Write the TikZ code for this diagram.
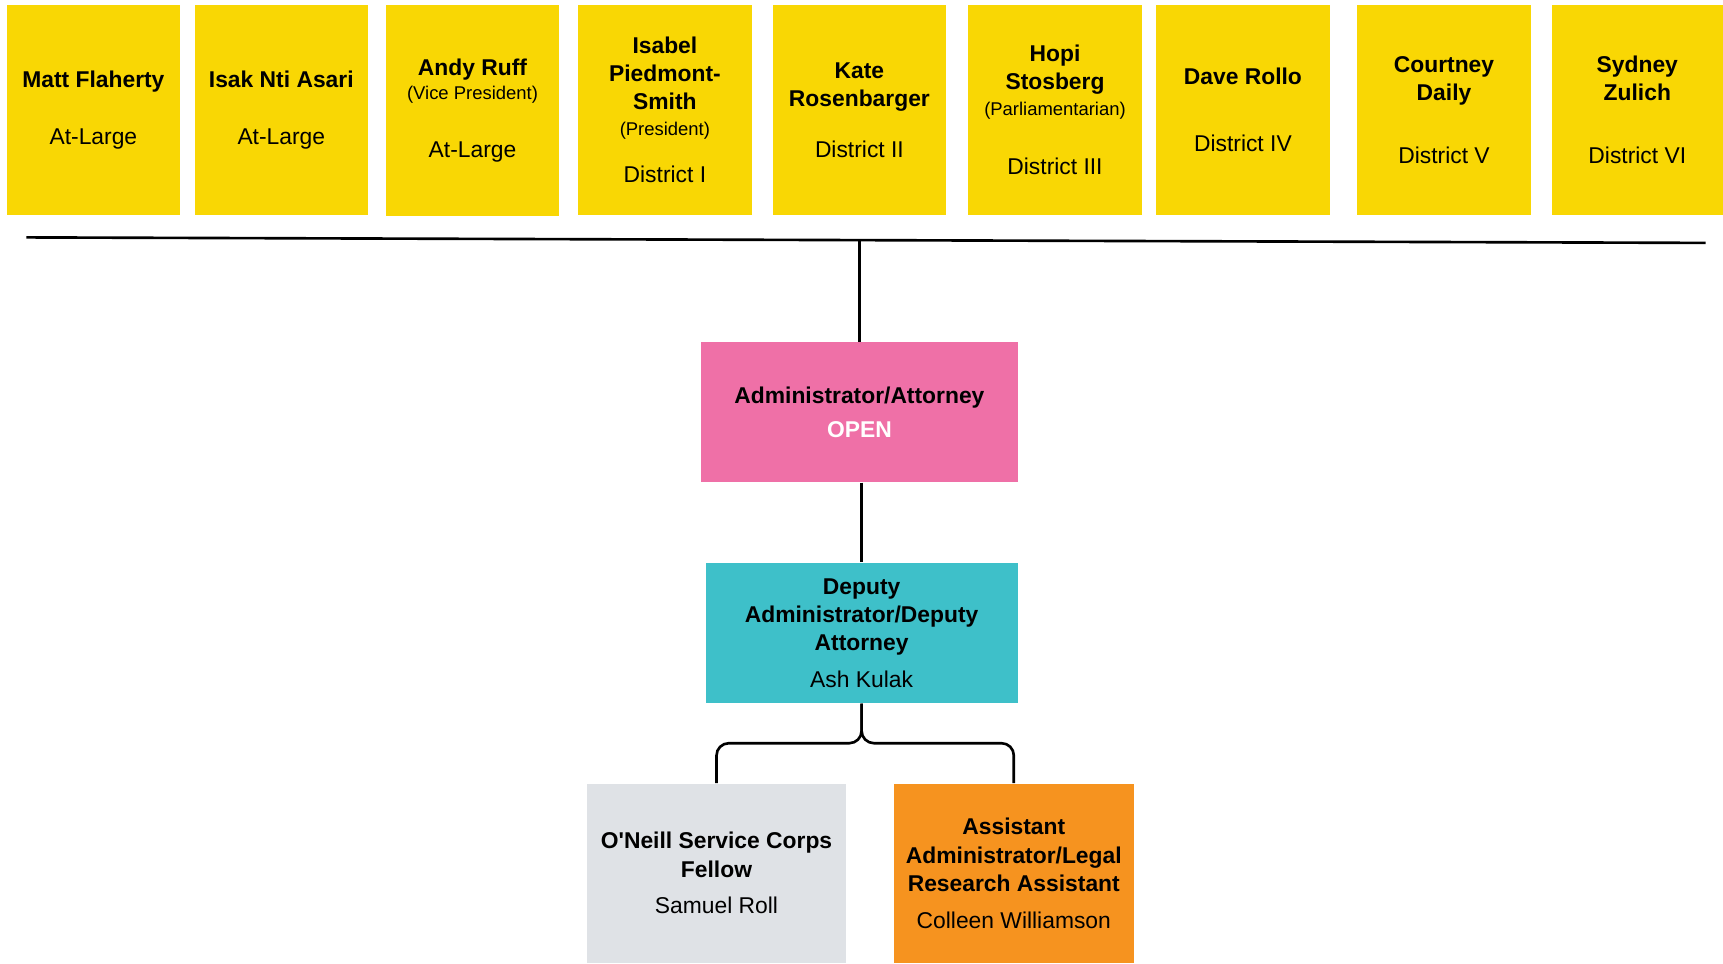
\documentclass[tikz,border=0pt]{standalone}
\usepackage{fontspec}
\setmainfont{Liberation Sans}

\definecolor{seatyellow}{HTML}{F9D704}
\definecolor{adminpink}{HTML}{EF70A7}
\definecolor{deputyteal}{HTML}{3EC0C9}
\definecolor{fellowgrey}{HTML}{DFE2E6}
\definecolor{legalorange}{HTML}{F6931F}

\newcommand{\office}[1]{{\fontsize{10.5}{12}\selectfont #1}}

\begin{document}
\begin{tikzpicture}[x=0.02cm,y=-0.02cm,
    seat/.style={rectangle,fill=seatyellow,inner sep=0pt,minimum width=3.47cm,minimum height=4.22cm,align=center,font=\fontsize{13}{16}\selectfont},
    post/.style={rectangle,inner sep=0pt,minimum height=2.81cm,align=center,font=\fontsize{13}{16}\selectfont},
    link/.style={line width=1.5pt}]
    \useasboundingbox (0,0) rectangle (1723,963);

    % council seats
    \node (flaherty) at (93.4,110) [seat]{\textbf{Matt Flaherty}\\[16pt]At-Large};
    \node (asari) at (281.3,110) [seat]{\textbf{Isak Nti Asari}\\[16pt]At-Large};
    \node (ruff) at (472.5,110.5) [seat]{\textbf{Andy Ruff}\\[-2pt]\office{(Vice President)}\\[17pt]At-Large};
    \node (piedmont) at (664.9,110) [seat]{\textbf{Isabel}\\\textbf{Piedmont-}\\\textbf{Smith}\\[-1.5pt]\office{(President)}\\[11pt]District I};
    \node (rosenbarger) at (859.4,110) [seat]{\textbf{Kate}\\\textbf{Rosenbarger}\\[13pt]District II};
    \node (stosberg) at (1055,110) [seat]{\textbf{Hopi}\\\textbf{Stosberg}\\[-1.5pt]\office{(Parliamentarian)}\\[18pt]District III};
    \node (rollo) at (1242.9,110) [seat]{\textbf{Dave Rollo}\\[22pt]District IV};
    \node (daily) at (1444,110) [seat]{\textbf{Courtney}\\\textbf{Daily}\\[20pt]District V};
    \node (zulich) at (1637.3,110) [seat,minimum width=3.428cm]{\textbf{Sydney}\\\textbf{Zulich}\\[20pt]District VI};

    % staff
    \node (admin) at (859.4,412.1) [post,fill=adminpink,minimum width=6.33cm]{\textbf{Administrator/Attorney}\\[3.4pt]\textcolor{white}{\textbf{OPEN}}};
    \node (deputy) at (861.6,633) [post,fill=deputyteal,minimum width=6.24cm]{\textbf{Deputy}\\\textbf{Administrator/Deputy}\\\textbf{Attorney}\\[5pt]Ash Kulak};
    \node (fellow) at (716.5,873.3) [post,fill=fellowgrey,minimum width=5.19cm,minimum height=3.59cm]{\textbf{O\textquotesingle Neill Service Corps}\\\textbf{Fellow}\\[5pt]Samuel Roll};
    \node (legal) at (1013.8,873.3) [post,fill=legalorange,minimum width=4.81cm,minimum height=3.59cm]{\textbf{Assistant}\\\textbf{Administrator/Legal}\\\textbf{Research Assistant}\\[5pt]Colleen Williamson};

    % connectors
    \coordinate (rule-l) at (26.4,237.4);
    \coordinate (rule-r) at (1705.5,242.9);
    \coordinate (tee) at (859.4,240);
    \draw [link] (rule-l) -- (rule-r);
    \draw [link] (tee) -- (admin.north);
    \draw [link] (deputy.north |- admin.south) -- (deputy.north);
    \draw [link,rounded corners=7] (deputy.south) -- ++(0,39.6) -| (fellow.north);
    \draw [link,rounded corners=7] (deputy.south) -- ++(0,39.6) -| (legal.north);
\end{tikzpicture}
\end{document}
